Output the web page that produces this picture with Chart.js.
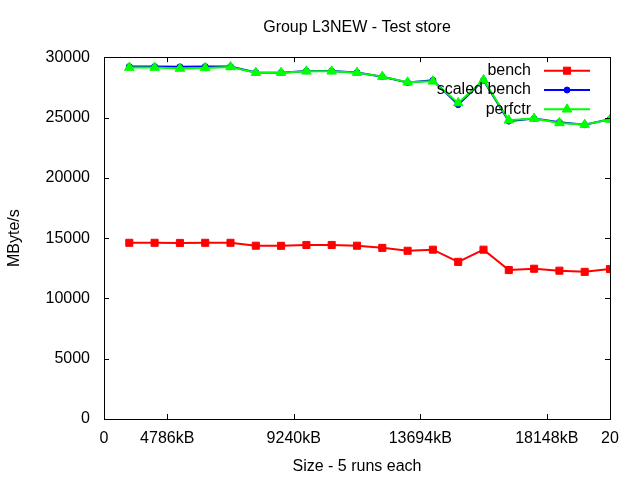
<!DOCTYPE html>
<html>
<head>
<meta charset="utf-8">
<script src="https://cdn.jsdelivr.net/npm/chart.js@4"></script>
<style>
  html, body { margin: 0; padding: 0; background: #fff; }
  canvas { display: block; }
</style>
</head>
<body>
<canvas id="chart" width="640" height="480"></canvas>
<script>
// Group L3NEW - Test store, one point per size step (x = 1..20)
var xSteps = [1, 2, 3, 4, 5, 6, 7, 8, 9, 10, 11, 12, 13, 14, 15, 16, 17, 18, 19, 20];
var bench = [14610, 14610, 14600, 14610, 14610, 14370, 14360, 14430, 14430, 14370,
             14190, 13950, 14040, 13030, 14040, 12350, 12460, 12300, 12200, 12430];
var scaledBench = [29220, 29220, 29200, 29220, 29220, 28740, 28720, 28860, 28860, 28740,
                   28380, 27900, 28080, 26060, 28080, 24700, 24920, 24600, 24400, 24860];
var perfctr = [29140, 29140, 29060, 29110, 29190, 28720, 28720, 28830, 28830, 28720,
               28390, 27920, 28000, 26200, 28110, 24770, 24910, 24550, 24410, 24830];

var xTickValues = [0, 2.5, 7.5, 12.5, 17.5, 20];
var xTickLabels = ['0', '4786kB', '9240kB', '13694kB', '18148kB', '20'];

var FONT = 'Liberation Sans, Arial, sans-serif';

function toPoints(values) {
    var pts = [];
    for (var i = 0; i < values.length; i++) {
        pts.push({ x: xSteps[i], y: values[i] });
    }
    return pts;
}

// gnuplot style frame with inward ticks on all four sides
var framePlugin = {
    id: 'frame',
    afterDraw: function(chart) {
        var ctx = chart.ctx;
        var a = chart.chartArea;
        var len = 5;
        ctx.save();
        ctx.strokeStyle = '#000';
        ctx.lineWidth = 1;
        ctx.beginPath();
        chart.scales.y.ticks.forEach(function(t) {
            var py = Math.round(chart.scales.y.getPixelForValue(t.value)) + 0.5;
            ctx.moveTo(a.left, py); ctx.lineTo(a.left + len, py);
            ctx.moveTo(a.right, py); ctx.lineTo(a.right - len, py);
        });
        chart.scales.x.ticks.forEach(function(t) {
            var px = Math.round(chart.scales.x.getPixelForValue(t.value)) + 0.5;
            ctx.moveTo(px, a.bottom); ctx.lineTo(px, a.bottom - len);
            ctx.moveTo(px, a.top); ctx.lineTo(px, a.top + len);
        });
        ctx.stroke();
        ctx.strokeRect(Math.round(a.left) + 0.5, Math.round(a.top) + 0.5,
                       Math.round(a.right - a.left), Math.round(a.bottom - a.top));
        ctx.restore();
    }
};

// legend: right-aligned text followed by a sample line with marker
var keyPlugin = {
    id: 'key',
    afterDraw: function(chart) {
        var ctx = chart.ctx;
        var a = chart.chartArea;
        var textRight = a.right - 79;
        var lineLeft = a.right - 66;
        var lineRight = a.right - 20;
        var rowY = a.top + 13.5;
        ctx.save();
        ctx.font = '16px ' + FONT;
        ctx.textAlign = 'right';
        ctx.textBaseline = 'middle';
        chart.data.datasets.slice().sort(function(p, q) { return q.order - p.order; })
            .forEach(function(ds, i) {
                var y = rowY + i * 19.3;
                ctx.fillStyle = '#000';
                ctx.fillText(ds.label, textRight, y);
                ctx.strokeStyle = ds.borderColor;
                ctx.lineWidth = ds.borderWidth;
                ctx.beginPath();
                ctx.moveTo(lineLeft, y);
                ctx.lineTo(lineRight, y);
                ctx.stroke();
                ctx.fillStyle = ds.pointBackgroundColor;
                ctx.lineWidth = ds.pointBorderWidth;
                Chart.helpers.drawPoint(ctx, {
                    pointStyle: ds.pointStyle,
                    radius: ds.pointRadius,
                    rotation: 0,
                    borderWidth: ds.pointBorderWidth
                }, (lineLeft + lineRight) / 2, y);
            });
        ctx.restore();
    }
};

new Chart(document.getElementById('chart').getContext('2d'), {
    type: 'line',
    data: {
        datasets: [
            {
                label: 'perfctr',
                data: toPoints(perfctr),
                borderColor: '#00ff00',
                backgroundColor: '#00ff00',
                pointBackgroundColor: '#00ff00',
                pointBorderColor: '#00ff00',
                pointStyle: 'triangle',
                pointRadius: 5.5,
                pointBorderWidth: 1,
                borderWidth: 2,
                order: 1
            },
            {
                label: 'scaled bench',
                data: toPoints(scaledBench),
                borderColor: '#0000ff',
                backgroundColor: '#0000ff',
                pointBackgroundColor: '#0000ff',
                pointBorderColor: '#0000ff',
                pointStyle: 'circle',
                pointRadius: 3,
                pointBorderWidth: 1,
                borderWidth: 2,
                order: 2
            },
            {
                label: 'bench',
                data: toPoints(bench),
                borderColor: '#ff0000',
                backgroundColor: '#ff0000',
                pointBackgroundColor: '#ff0000',
                pointBorderColor: '#ff0000',
                pointStyle: 'rect',
                pointRadius: 5,
                pointBorderWidth: 1,
                borderWidth: 2,
                order: 3
            }
        ]
    },
    options: {
        responsive: false,
        animation: false,
        devicePixelRatio: 1,
        layout: { padding: { left: 0, right: 30, top: 0, bottom: 0 } },
        elements: { line: { tension: 0, fill: false } },
        scales: {
            x: {
                type: 'linear',
                min: 0,
                max: 20,
                grid: { display: false, drawTicks: false },
                border: { display: false },
                afterBuildTicks: function(scale) {
                    scale.ticks = xTickValues.map(function(v) { return { value: v }; });
                },
                afterFit: function(scale) { scale.height = 61; },
                ticks: {
                    autoSkip: false,
                    maxRotation: 0,
                    padding: 10,
                    color: '#000',
                    font: { family: FONT, size: 16 },
                    callback: function(value) {
                        var idx = xTickValues.indexOf(value);
                        return idx >= 0 ? xTickLabels[idx] : '';
                    }
                },
                title: {
                    display: true,
                    text: 'Size - 5 runs each',
                    color: '#000',
                    font: { family: FONT, size: 16 },
                    padding: { top: 0, bottom: 4 }
                }
            },
            y: {
                min: 0,
                max: 30000,
                grid: { display: false, drawTicks: false },
                border: { display: false },
                afterFit: function(scale) { scale.width = 104; },
                ticks: {
                    stepSize: 5000,
                    padding: 14,
                    color: '#000',
                    font: { family: FONT, size: 16 },
                    callback: function(value) { return String(value); }
                },
                title: {
                    display: true,
                    text: 'MByte/s',
                    color: '#000',
                    font: { family: FONT, size: 16 },
                    padding: { top: 5, bottom: 0 }
                }
            }
        },
        plugins: {
            legend: { display: false },
            tooltip: { enabled: false },
            title: {
                display: true,
                text: 'Group L3NEW - Test store',
                color: '#000',
                fullSize: false,
                font: { family: FONT, size: 16, weight: 'normal' },
                padding: { top: 18, bottom: 20 }
            }
        }
    },
    plugins: [framePlugin, keyPlugin]
});
</script>
</body>
</html>
